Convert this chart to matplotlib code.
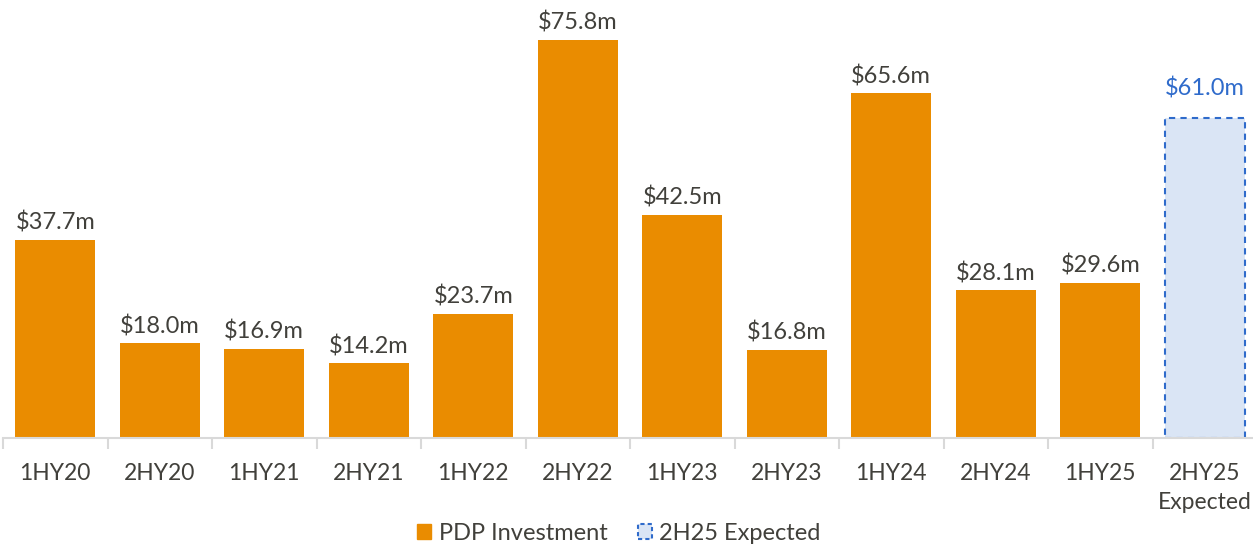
import numpy as np
import matplotlib.pyplot as plt
from matplotlib.patches import Patch

plt.rcParams['font.family'] = ['Lato', 'DejaVu Sans']

# data
periods = ['1HY20', '2HY20', '1HY21', '2HY21', '1HY22', '2HY22',
           '1HY23', '2HY23', '1HY24', '2HY24', '1HY25', '2HY25\nExpected']
invest = [37.7, 18.0, 16.9, 14.2, 23.7, 75.8, 42.5, 16.8, 65.6, 28.1, 29.6]
expected = [61.0]

orange = '#EA8C00'
blue_edge = '#2F6BCB'
blue_fill = '#DAE5F5'
txt = '#41403b'

fig = plt.figure(figsize=(12.53, 5.48), dpi=100)
ax = fig.add_axes([3 / 1253, 110 / 548, 1254 / 1253, 438 / 548])

x = np.arange(len(periods))
bw = 0.77
ax.bar(x[:len(invest)], invest, width=bw, color=orange)
ax.bar(x[len(invest):], expected, width=bw, color=blue_fill,
       edgecolor=blue_edge, linestyle=(0, (3, 2.5)), linewidth=1.5)

for xi, v in zip(x[:len(invest)], invest):
    ax.text(xi, v + 1.2, f'${v:.1f}m', ha='center', va='bottom', fontsize=17, color=txt)
for xi, v in zip(x[len(invest):], expected):
    ax.text(xi, v + 3.5, f'${v:.1f}m', ha='center', va='bottom', fontsize=17, color=blue_edge)

ax.set_xlim(-0.5, len(periods) - 0.5)
ax.set_ylim(0, 83.4)
ax.set_yticks([])
for s in ['top', 'right', 'left']:
    ax.spines[s].set_visible(False)
ax.spines['bottom'].set_color('#d9d9d9')
ax.spines['bottom'].set_linewidth(1.5)

ax.set_xticks(x)
ax.set_xticklabels(periods, fontsize=16.5, color=txt, linespacing=1.45, va='top')
ax.tick_params(axis='x', which='major', length=0, pad=18)
ax.set_xticks(np.arange(-0.5, len(periods), 1), minor=True)
ax.tick_params(axis='x', which='minor', length=8, width=1.5, color='#d9d9d9')

handles = [Patch(facecolor=orange, edgecolor=orange, label='PDP Investment'),
           Patch(facecolor=blue_fill, edgecolor=blue_edge, linestyle=(0, (2, 1.5)),
                 linewidth=1.5, label='2H25 Expected')]
fig.legend(handles=handles, loc='center', bbox_to_anchor=(0.494, 0.026),
           ncol=2, frameon=False, fontsize=17, handlelength=0.6, handleheight=0.6,
           handletextpad=0.3, columnspacing=1.3, labelcolor=txt)

fig.savefig('out.png', dpi=100)
